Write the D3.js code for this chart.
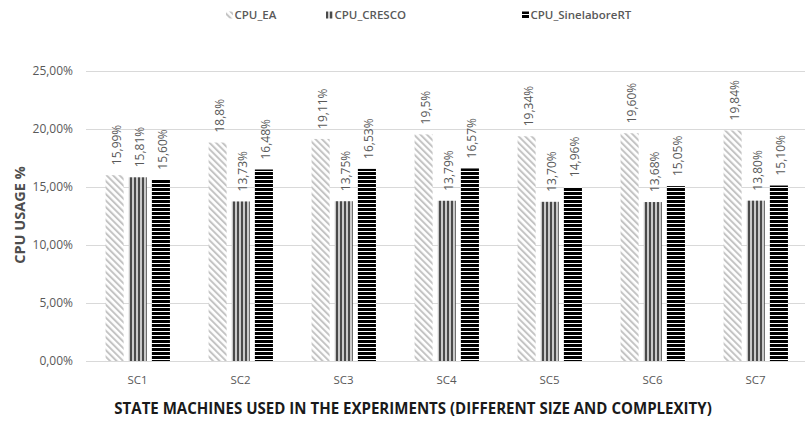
<!DOCTYPE html>
<html>
<head>
<meta charset="utf-8">
<script src="https://cdn.jsdelivr.net/npm/d3@7"></script>
<style>
  html, body { margin: 0; padding: 0; background: #fff; }
  svg { display: block; }
  text { font-family: "Open Sans", "Noto Sans", sans-serif; }
</style>
</head>
<body>
<svg id="chart" width="805" height="426"></svg>
<script>
// State machines measured
const categories = ["SC1", "SC2", "SC3", "SC4", "SC5", "SC6", "SC7"];

// CPU usage per implementation (percent, as reported)
const cpuEA          = ["15.99", "18.8", "19.11", "19.5", "19.34", "19.60", "19.84"];
const cpuCRESCO      = ["15.81", "13.73", "13.75", "13.79", "13.70", "13.68", "13.80"];
const cpuSinelabore  = ["15.60", "16.48", "16.53", "16.57", "14.96", "15.05", "15.10"];

const seriesNames = ["CPU_EA", "CPU_CRESCO", "CPU_SinelaboreRT"];
const yTicks = [0, 5, 10, 15, 20, 25];

const xTitle = "STATE MACHINES USED IN THE EXPERIMENTS (DIFFERENT SIZE AND COMPLEXITY)";
const yTitle = "CPU USAGE %";

const seriesData = [cpuEA, cpuCRESCO, cpuSinelabore];

const svg = d3.select("#chart");
const defs = svg.append("defs");

// Pattern fills
const pEA = defs.append("pattern")
  .attr("id", "pat-ea").attr("patternUnits", "userSpaceOnUse")
  .attr("width", 4.6).attr("height", 4.6)
  .attr("patternTransform", "rotate(-45)");
pEA.append("rect").attr("width", 4.6).attr("height", 4.6).attr("fill", "#ffffff");
pEA.append("rect").attr("width", 2).attr("height", 4.6).attr("fill", "#c4c4c4");

const pCR = defs.append("pattern")
  .attr("id", "pat-cresco").attr("patternUnits", "userSpaceOnUse")
  .attr("width", 4).attr("height", 4);
pCR.append("rect").attr("width", 4).attr("height", 4).attr("fill", "#c9c9c9");
pCR.append("rect").attr("width", 2).attr("height", 4).attr("fill", "#4a4a4a");

const pSI = defs.append("pattern")
  .attr("id", "pat-sine").attr("patternUnits", "userSpaceOnUse")
  .attr("width", 4).attr("height", 4);
pSI.append("rect").attr("width", 4).attr("height", 4).attr("fill", "#ffffff");
pSI.append("rect").attr("width", 4).attr("height", 3).attr("fill", "#000000");

const fills = ["url(#pat-ea)", "url(#pat-cresco)", "url(#pat-sine)"];

// Scales
const x0 = d3.scaleBand().domain(categories).range([86, 807]).padding(0);
const x1 = d3.scaleBand().domain(d3.range(seriesNames.length))
  .range([x0.bandwidth() * 0.19, x0.bandwidth() * 0.815])
  .paddingInner(0.22).paddingOuter(0);
const y = d3.scaleLinear().domain([0, 25]).range([361, 70.5]);

const fmtTick = v => d3.format(".2f")(v).replace(".", ",") + "%";

// Gridlines
svg.append("g").selectAll("line").data(yTicks).join("line")
  .attr("x1", 86).attr("x2", 805)
  .attr("y1", d => Math.round(y(d)) + 0.5).attr("y2", d => Math.round(y(d)) + 0.5)
  .attr("stroke", "#d9d9d9").attr("stroke-width", 1);

// Y tick labels
svg.append("g").selectAll("text").data(yTicks).join("text")
  .attr("x", 73).attr("y", d => y(d)).attr("dy", "0.35em")
  .attr("text-anchor", "end")
  .attr("font-size", 12).attr("fill", "#595959")
  .text(fmtTick);

// Bars
const groups = svg.append("g").selectAll("g").data(categories).join("g")
  .attr("transform", d => `translate(${x0(d)},0)`);

groups.each(function(cat, ci) {
  const g = d3.select(this);
  seriesData.forEach((arr, si) => {
    const v = +arr[ci];
    g.append("rect")
      .attr("x", x1(si)).attr("width", x1.bandwidth())
      .attr("y", y(v)).attr("height", y(0) - y(v))
      .attr("fill", fills[si]);
    const cx = x1(si) + x1.bandwidth() / 2 + 2;
    const ty = y(v) - 10;
    g.append("text")
      .attr("transform", `translate(${cx},${ty}) rotate(-90)`)
      .attr("dy", "0.35em")
      .attr("text-anchor", "start")
      .attr("font-size", 12).attr("fill", "#595959")
      .text(arr[ci].replace(".", ",") + "%");
  });
});

// X category labels
svg.append("g").selectAll("text").data(categories).join("text")
  .attr("x", d => x0(d) + x0.bandwidth() / 2).attr("y", 380).attr("dy", "0.35em")
  .attr("text-anchor", "middle")
  .attr("font-size", 11.5).attr("fill", "#595959")
  .text(d => d);

// Axis titles
svg.append("text")
  .attr("transform", "translate(20,215) rotate(-90)")
  .attr("dy", "0.35em").attr("text-anchor", "middle")
  .attr("font-size", 14.5).attr("font-weight", 700).attr("fill", "#4d4d4d")
  .text(yTitle);

const xt = svg.append("text")
  .attr("x", 413).attr("y", 409).attr("dy", "0.35em")
  .attr("text-anchor", "middle")
  .attr("font-size", 13).attr("font-weight", 700).attr("fill", "#1a1a1a")
  .text(xTitle);
const targetW = 598;
const w13 = xt.node().getComputedTextLength();
xt.attr("font-size", 13 * targetW / w13);

// Legend
const legendX = [226, 326, 522];
const legend = svg.append("g").selectAll("g").data(seriesNames).join("g")
  .attr("transform", (d, i) => `translate(${legendX[i]},15)`);
legend.append("rect")
  .attr("x", 0).attr("y", -3.5).attr("width", 7).attr("height", 7)
  .attr("fill", (d, i) => fills[i]);
legend.append("text")
  .attr("x", 8.5).attr("y", 0).attr("dy", "0.35em")
  .attr("font-size", 11.5).attr("font-weight", 600).attr("fill", "#595959")
  .text(d => d);
</script>
</body>
</html>
